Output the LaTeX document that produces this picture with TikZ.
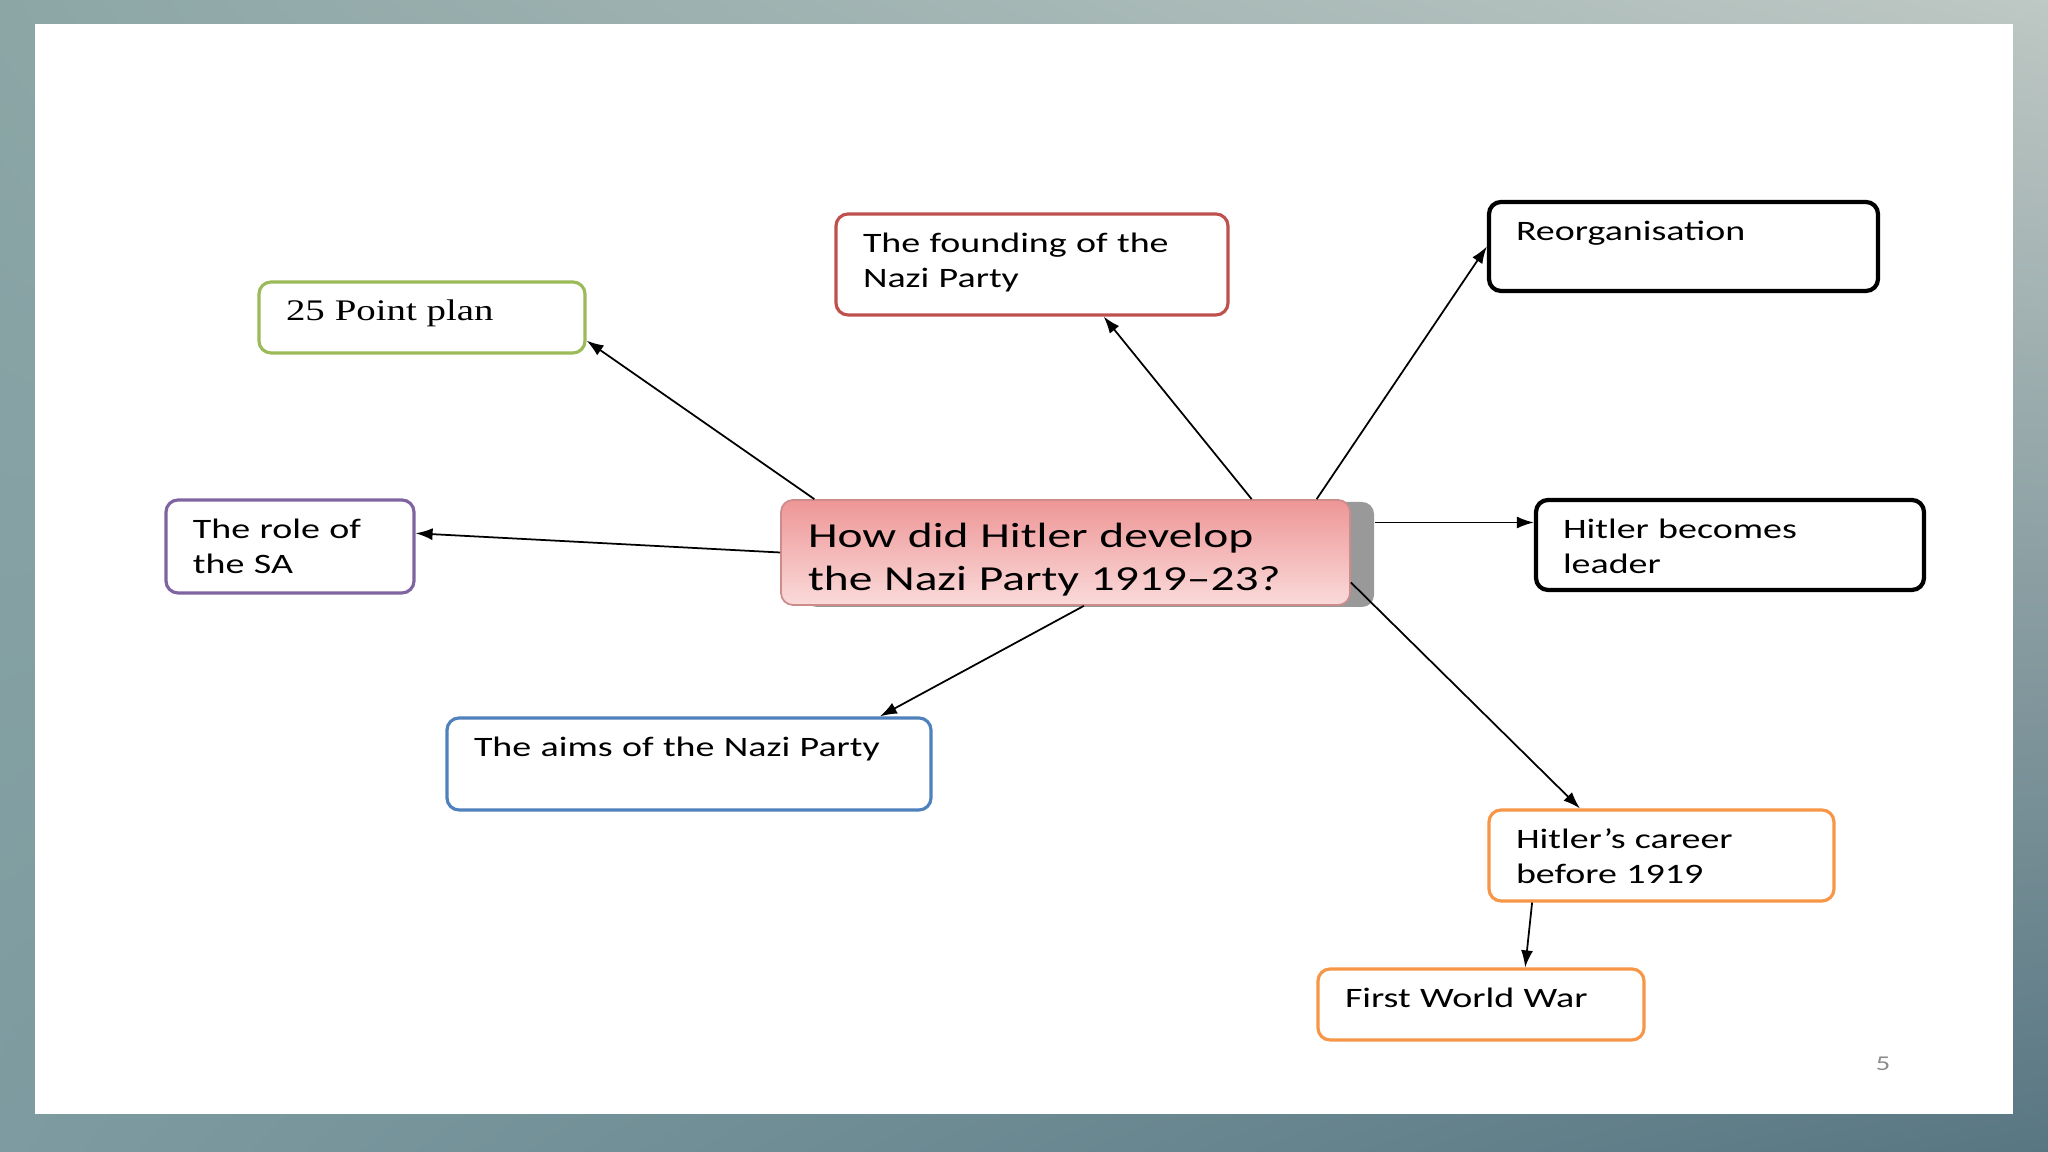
\documentclass[tikz,border=0pt]{standalone}
\usepackage{fontspec}
\usetikzlibrary{arrows.meta,shadows,shadings}
\newfontfamily\boxfont[FakeStretch=1.35]{Carlito}
\newfontfamily\planfont[FakeStretch=1.3]{Liberation Serif}
\definecolor{planGreen}{RGB}{155,187,89}
\definecolor{saPurple}{RGB}{128,100,162}
\definecolor{foundRed}{RGB}{192,80,77}
\definecolor{aimsBlue}{RGB}{79,129,189}
\definecolor{warOrange}{RGB}{247,150,70}
\definecolor{hubPink}{RGB}{238,150,150}
\definecolor{hubPale}{RGB}{250,218,218}
\definecolor{hubEdge}{RGB}{205,140,140}
\definecolor{frameA}{RGB}{140,166,166}
\definecolor{frameB}{RGB}{190,200,196}
\definecolor{frameC}{RGB}{125,155,160}
\definecolor{frameD}{RGB}{88,118,130}
\begin{document}
\begin{tikzpicture}[scale=1.0,
  box/.style={draw, rounded corners=0.12cm, line width=0.9pt, align=left,
    inner xsep=0.27cm, inner ysep=0pt, text height=0.39cm,
    font=\boxfont\fontsize{8pt}{9.7pt}\selectfont},
  arr/.style={-{Latex[length=0.17cm,width=0.12cm]}, line width=0.5pt}]
\shade[upper left=frameA, upper right=frameB, lower left=frameC, lower right=frameD] (0,0) rectangle (20.48,11.52);
\fill[white] (0.35,0.38) rectangle (20.13,11.28);

\node[box, draw=planGreen, text width=2.72cm, text depth=0.32cm,
  font=\planfont\fontsize{8.5pt}{10pt}\selectfont] (plan) at (4.22,8.345) {25 Point plan};
\node[box, draw=saPurple, text width=1.94cm, text depth=0.54cm] (sa) at (2.90,6.055) {The role of\\the SA};
\node[box, draw=foundRed, text width=3.38cm, text depth=0.62cm] (found) at (10.32,8.875) {The founding of the\\Nazi Party};
\node[box, draw=black, line width=1.2pt, text width=3.35cm, text depth=0.50cm] (reorg) at (16.835,9.055) {Reorganisation};
\node[box, draw=hubEdge, line width=0.5pt, top color=hubPink, bottom color=hubPale,
  general shadow={fill=black!40, shadow xshift=0.24cm, shadow yshift=-0.02cm},
  text width=5.15cm, text height=0.48cm, text depth=0.57cm,
  font=\boxfont\fontsize{10pt}{12pt}\selectfont] (hub) at (10.655,5.995) {How did Hitler develop\\the Nazi Party 1919–23?};
\node[box, draw=black, line width=1.2pt, text width=3.34cm, text depth=0.51cm] (leader) at (17.30,6.07) {Hitler becomes\\leader};
\node[box, draw=aimsBlue, text width=4.30cm, text depth=0.53cm] (aims) at (6.89,3.88) {The aims of the Nazi Party};
\node[box, draw=warOrange, text width=2.91cm, text depth=0.52cm] (career) at (16.615,2.965) {Hitler’s career\\before 1919};
\node[box, draw=warOrange, text width=2.72cm, text depth=0.32cm] (war) at (14.81,1.475) {First World War};
\node[text=black!45, font=\boxfont\fontsize{6pt}{7pt}\selectfont] (page) at (18.83,0.88) {5};

\draw[arr] (hub.168.1) -- (plan.-8);
\draw[arr] (hub.west) -- (sa.6);
\draw[arr] (hub.16) -- (found.-36);
\draw[arr] (hub.12.5) -- (reorg.west);
\draw[arr] ([xshift=0.24cm]hub.6) -- (hub.6 -| leader.west);
\draw[arr] (hub.-6) -- (career.150);
\draw[arr] (hub.-71) -- (aims.14);
\draw[arr] (career.200) -- (war.40);
\end{tikzpicture}
\end{document}
